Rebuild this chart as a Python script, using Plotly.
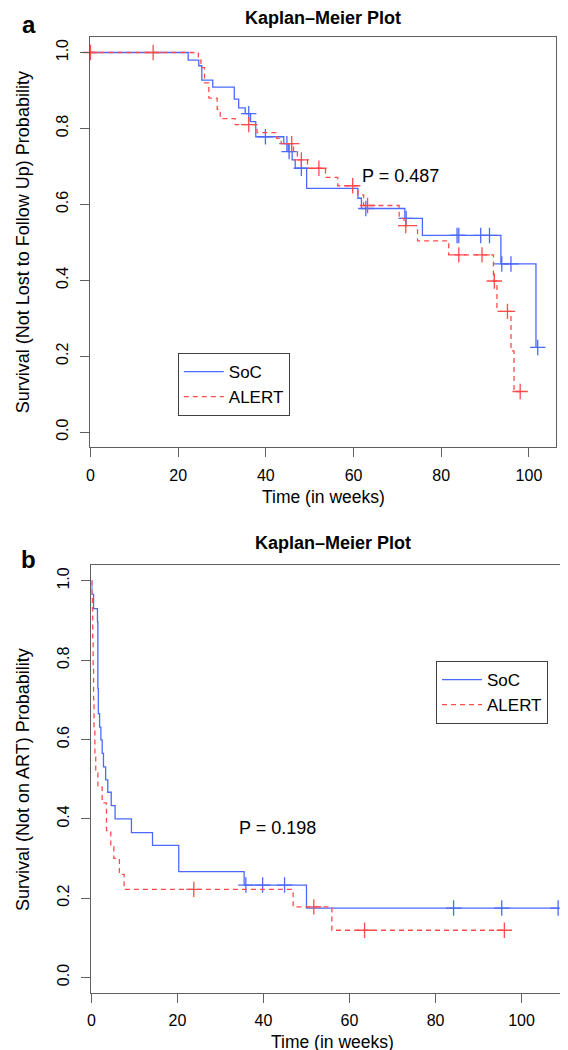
import numpy as np
import plotly.graph_objects as go

# ---------------- Panel a: lost to follow up ----------------
a_soc_time = [0, 22.3, 24.7, 25.4, 27.9, 32.8, 33.8, 35.3, 36.5, 37.7, 44.1, 45.1, 46.0, 46.7,
              49.3, 61.0, 61.8, 71.7, 75.7, 93.6, 101.6]
a_soc_surv = [1.0, 0.98, 0.965, 0.927, 0.909, 0.877, 0.854, 0.839, 0.818, 0.778, 0.76, 0.739,
              0.717, 0.695, 0.642, 0.616, 0.589, 0.563, 0.518, 0.443, 0.223]
a_soc_end = 102.0
a_soc_cens = [36.1, 39.9, 44.8, 45.3, 48.1, 62.8, 72.0, 83.6, 84.0, 89.0, 91.0, 93.8, 95.9, 102.0]

a_alert_time = [0, 24.6, 25.2, 26.0, 27.0, 28.9, 29.6, 33.0, 38.0, 42.5, 43.5, 46.3, 47.2, 49.5,
                53.6, 56.4, 61.0, 62.3, 70.4, 71.5, 74.6, 81.7, 91.9, 92.7, 95.9, 96.6]
a_alert_surv = [1.0, 0.98, 0.96, 0.92, 0.88, 0.85, 0.826, 0.81, 0.789, 0.774, 0.76, 0.739, 0.717,
                0.695, 0.671, 0.649, 0.625, 0.597, 0.563, 0.544, 0.504, 0.467, 0.398, 0.318,
                0.214, 0.107]
a_alert_end = 98.0
a_alert_cens = [0, 14.3, 36.1, 45.9, 48.1, 52.1, 59.8, 63.2, 71.9, 84.0, 89.3, 92.1, 95.1, 98.0]

# ---------------- Panel b: not on ART ----------------
b_soc_time = [0, 0.1, 0.5, 1.4, 1.5, 1.6, 1.9, 2.2, 2.5, 2.8, 3.3, 3.8, 4.6, 5.5, 9.3, 14.2,
              20.3, 35.5, 50.0]
b_soc_surv = [1.0, 0.966, 0.93, 0.897, 0.729, 0.665, 0.631, 0.599, 0.565, 0.531, 0.498, 0.467,
              0.433, 0.40, 0.365, 0.333, 0.267, 0.233, 0.175]
b_soc_end = 108.5
b_soc_cens = [35.9, 39.8, 44.9, 84.2, 95.4, 108.5]

b_alert_time = [0, 0.1, 0.2, 0.3, 0.4, 0.5, 0.6, 0.8, 1.0, 1.5, 2.5, 3.5, 4.5, 5.2, 6.5, 7.6,
                46.9, 55.9]
b_alert_surv = [1.0, 0.96, 0.93, 0.85, 0.78, 0.70, 0.63, 0.56, 0.52, 0.48, 0.44, 0.37, 0.33,
                0.30, 0.26, 0.222, 0.178, 0.119]
b_alert_end = 96.0
b_alert_cens = [23.8, 51.7, 63.5, 96.0]

x_ticks = [0, 20, 40, 60, 80, 100]
y_ticks = [0.0, 0.2, 0.4, 0.6, 0.8, 1.0]
y_ticklabels = ["0.0", "0.2", "0.4", "0.6", "0.8", "1.0"]

group_names = ["SoC", "ALERT"]
p_values = ["P = 0.487", "P = 0.198"]
panel_titles = ["Kaplan\u2013Meier Plot", "Kaplan\u2013Meier Plot"]
y_titles = ["Survival (Not Lost to Follow Up) Probability", "Survival (Not on ART) Probability"]
x_title = "Time (in weeks)"
panel_labels = ["a", "b"]

BLUE = "rgb(75,105,255)"
RED = "rgb(255,75,75)"
FONT = "Liberation Sans, Arial, Helvetica, sans-serif"
W, H = 568, 1050


def step_xy(times, surv, end):
    return list(times) + [end], list(surv) + [surv[-1]]


def cens_y(times, surv, cens):
    t = np.asarray(times)
    s = np.asarray(surv)
    idx = np.searchsorted(t, np.asarray(cens), side="right") - 1
    return s[idx].tolist()


fig = go.Figure()

panels = [
    (a_soc_time, a_soc_surv, a_soc_end, a_soc_cens,
     a_alert_time, a_alert_surv, a_alert_end, a_alert_cens, "x", "y", "legend"),
    (b_soc_time, b_soc_surv, b_soc_end, b_soc_cens,
     b_alert_time, b_alert_surv, b_alert_end, b_alert_cens, "x2", "y2", "legend2"),
]

for (st, ss, se, sc, at, as_, ae, ac, xa, ya, lg) in panels:
    for name, t, s, e, c, col, dash in [
        (group_names[0], st, ss, se, sc, BLUE, "solid"),
        (group_names[1], at, as_, ae, ac, RED, "5px,4px"),
    ]:
        x, y = step_xy(t, s, e)
        fig.add_trace(go.Scatter(
            x=x, y=y, mode="lines", name=name, line=dict(color=col, width=1.3, dash=dash,
                                                          shape="hv"),
            xaxis=xa, yaxis=ya, legend=lg, showlegend=True, hoverinfo="skip"))
        fig.add_trace(go.Scatter(
            x=c, y=cens_y(t, s, c), mode="markers", showlegend=False,
            marker=dict(symbol="cross-thin", size=11, color=col,
                        line=dict(color=col, width=1.3)),
            xaxis=xa, yaxis=ya, cliponaxis=False, hoverinfo="skip"))

# panel geometry in pixels
pa = dict(l=79, r=548, t=29.3, b=439.3)
pb = dict(l=80, r=566, t=557, b=985.3)


def dom_x(p):
    return [p["l"] / W, p["r"] / W]


def dom_y(p):
    return [1 - p["b"] / H, 1 - p["t"] / H]


axis_common = dict(showline=True, mirror=True, linecolor="#606060", linewidth=1,
                   ticks="outside", ticklen=9, tickcolor="#606060", tickwidth=1,
                   showgrid=False, zeroline=False,
                   tickfont=dict(family=FONT, size=16, color="black"))

fig.update_layout(
    width=W, height=H, margin=dict(l=0, r=0, t=0, b=0),
    paper_bgcolor="white", plot_bgcolor="white",
    font=dict(family=FONT, color="black"),
    xaxis=dict(domain=dom_x(pa), range=[0, 106.2], tickvals=x_ticks, anchor="y",
               ticklabelstandoff=4, **axis_common),
    yaxis=dict(domain=dom_y(pa), range=[-0.04, 1.04], tickvals=y_ticks, ticktext=y_ticklabels,
               tickangle=-90, anchor="x", ticklabelstandoff=6, **axis_common),
    xaxis2=dict(domain=dom_x(pb), range=[0, 112.2], tickvals=x_ticks, anchor="y2",
                ticklabelstandoff=3, **axis_common),
    yaxis2=dict(domain=dom_y(pb), range=[-0.04, 1.04], tickvals=y_ticks, ticktext=y_ticklabels,
                tickangle=-90, anchor="x2", ticklabelstandoff=6, **axis_common),
    legend=dict(x=167 / W, y=1 - 345 / H, xanchor="left", yanchor="top",
                bordercolor="#404040", borderwidth=1, bgcolor="white", itemwidth=40,
                font=dict(family=FONT, size=17, color="black")),
    legend2=dict(x=427 / W, y=1 - 653 / H, xanchor="left", yanchor="top",
                 bordercolor="#404040", borderwidth=1, bgcolor="white", itemwidth=40,
                 font=dict(family=FONT, size=17, color="black")),
)

ann = []
for i, p in enumerate([pa, pb]):
    cx = (p["l"] + p["r"]) / 2 / W
    cy = 1 - (p["t"] + p["b"]) / 2 / H
    title_y = [10, 535][i]
    label_y = [16, 551][i]
    xt_y = [489, 1034][i]
    ann.append(dict(text="<b>%s</b>" % panel_titles[i], x=cx, y=1 - title_y / H,
                    xref="paper", yref="paper", showarrow=False,
                    font=dict(family=FONT, size=18, color="black"),
                    xanchor="center", yanchor="middle"))
    ann.append(dict(text="<b>%s</b>" % panel_labels[i], x=17 / W, y=1 - label_y / H,
                    xref="paper", yref="paper", showarrow=False,
                    font=dict(family=FONT, size=24, color="black"),
                    xanchor="center", yanchor="middle"))
    ann.append(dict(text=y_titles[i], x=11 / W, y=cy, xref="paper", yref="paper",
                    showarrow=False, textangle=-90,
                    font=dict(family=FONT, size=18, color="black"),
                    xanchor="center", yanchor="middle"))
    ann.append(dict(text=x_title, x=cx, y=1 - xt_y / H, xref="paper", yref="paper",
                    showarrow=False, font=dict(family=FONT, size=17.5, color="black"),
                    xanchor="center", yanchor="middle"))

ann.append(dict(text=p_values[0], x=61.4, y=0.674, xref="x", yref="y", showarrow=False,
                xanchor="left", yanchor="middle", font=dict(family=FONT, size=18, color="black")))
ann.append(dict(text=p_values[1], x=33.9, y=0.377, xref="x2", yref="y2", showarrow=False,
                xanchor="left", yanchor="middle", font=dict(family=FONT, size=18, color="black")))

fig.update_layout(annotations=ann)
fig.write_html("out.html")
